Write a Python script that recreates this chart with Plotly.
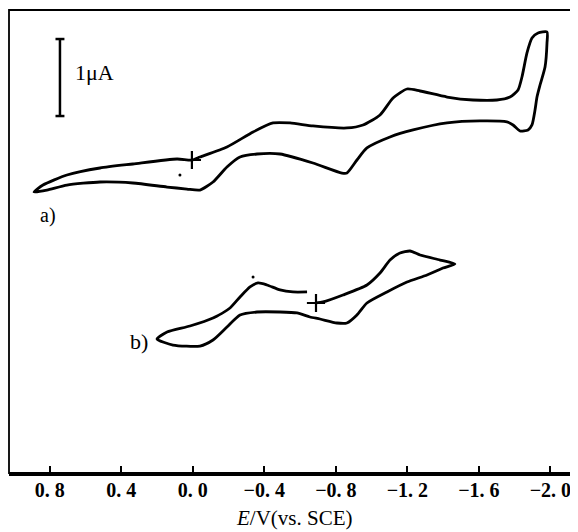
import plotly.graph_objects as go

# Curve a) : potential (V vs SCE) and current (µA, arbitrary offset)
a_E = [0.005, -0.040, -0.191, -0.337, -0.449, -0.544, -0.672, -0.862, -0.952, -1.047,
       -1.120, -1.198, -1.271, -1.422, -1.567, -1.701, -1.774, -1.819, -1.841, -1.869,
       -1.897, -1.931, -1.981, -1.981, -1.970, -1.942, -1.925, -1.914, -1.897, -1.875,
       -1.830, -1.791, -1.757, -1.606, -1.422, -1.232, -1.103, -0.974, -0.918, -0.862,
       -0.834, -0.672, -0.488, -0.359, -0.264, -0.191, -0.113, -0.040, 0.033, 0.144,
       0.335, 0.519, 0.704, 0.816, 0.888, 0.838, 0.704, 0.519, 0.335, 0.088, 0.005]
a_I = [4.065, 4.104, 4.234, 4.429, 4.546, 4.546, 4.507, 4.481, 4.520, 4.649,
       4.870, 4.987, 4.961, 4.883, 4.844, 4.844, 4.883, 4.974, 5.143, 5.455,
       5.649, 5.714, 5.727, 5.585, 5.273, 5.039, 4.883, 4.714, 4.520, 4.455,
       4.442, 4.520, 4.559, 4.572, 4.546, 4.455, 4.364, 4.221, 4.065, 3.896,
       3.896, 4.026, 4.143, 4.143, 4.104, 3.974, 3.779, 3.675, 3.688, 3.714,
       3.766, 3.779, 3.740, 3.675, 3.649, 3.740, 3.870, 3.961, 4.013, 4.078, 4.065]

# Curve b)
b_E = [-0.689, -0.728, -0.840, -0.974, -1.047, -1.103, -1.159, -1.215, -1.271, -1.383,
       -1.466, -1.399, -1.310, -1.198, -1.086, -0.974, -0.918, -0.862, -0.806, -0.711,
       -0.655, -0.583, -0.488, -0.359, -0.264, -0.191, -0.113, -0.040, 0.111, 0.200,
       0.144, 0.016, -0.113, -0.208, -0.264, -0.320, -0.365, -0.415, -0.488, -0.560, -0.639]
b_I = [2.208, 2.221, 2.312, 2.442, 2.597, 2.766, 2.857, 2.883, 2.831, 2.766,
       2.714, 2.662, 2.571, 2.480, 2.351, 2.208, 2.052, 1.948, 1.948, 2.000,
       2.026, 2.078, 2.091, 2.091, 2.052, 1.896, 1.727, 1.649, 1.662, 1.740,
       1.831, 1.909, 2.013, 2.143, 2.286, 2.416, 2.468, 2.442, 2.377, 2.351, 2.351]

# start points (+) and small dots
start_E = [0.005, -0.689]
start_I = [4.065, 2.208]
dot_E = [0.072, -0.337]
dot_I = [3.870, 2.546]

tick_vals = [0.8, 0.4, 0.0, -0.4, -0.8, -1.2, -1.6, -2.0]
tick_text = ["0. 8", "0. 4", "0. 0", "−0. 4", "−0. 8", "−1. 2", "−1. 6", "−2. 0"]

fig = go.Figure()
line_style = dict(color="black", width=2.8, shape="spline", smoothing=0.6)
fig.add_trace(go.Scatter(x=a_E, y=a_I, mode="lines", line=line_style, hoverinfo="skip"))
fig.add_trace(go.Scatter(x=b_E, y=b_I, mode="lines", line=line_style, hoverinfo="skip"))
fig.add_trace(go.Scatter(x=start_E, y=start_I, mode="markers",
                         marker=dict(symbol="cross-thin", size=13, line=dict(color="black", width=2.2)),
                         hoverinfo="skip"))
fig.add_trace(go.Scatter(x=dot_E, y=dot_I, mode="markers",
                         marker=dict(symbol="circle", size=3, color="black"), hoverinfo="skip"))

# 1 µA scale bar
fig.add_shape(type="line", x0=0.743, x1=0.743, y0=4.636, y1=5.636, line=dict(color="black", width=2.5))
fig.add_shape(type="line", x0=0.768, x1=0.718, y0=5.636, y1=5.636, line=dict(color="black", width=2.5))
fig.add_shape(type="line", x0=0.768, x1=0.718, y0=4.636, y1=4.636, line=dict(color="black", width=2.5))
fig.add_annotation(x=0.670, y=5.195, text="1μA", showarrow=False, xanchor="left", yanchor="middle",
                   font=dict(family="Liberation Serif", size=22, color="black"))

fig.add_annotation(x=0.810, y=3.338, text="a)", showarrow=False, yanchor="middle",
                   font=dict(family="Liberation Serif", size=20, color="black"))
fig.add_annotation(x=0.301, y=1.714, text="b)", showarrow=False, yanchor="middle",
                   font=dict(family="Liberation Serif", size=22, color="black"))

# axis title
fig.add_annotation(xref="paper", yref="paper", x=0.505, y=-0.098, yanchor="middle",
                   text="<i>E</i>/V(vs. SCE)", showarrow=False,
                   font=dict(family="Liberation Serif", size=21, color="black"))

# frame
fig.add_shape(type="rect", xref="paper", yref="paper", x0=0, x1=1, y0=0, y1=1,
              line=dict(color="black", width=1.8))

# page body has an 8px margin, so the figure is sized/offset to compensate
fig.update_layout(
    width=570, height=524,
    margin=dict(l=1, r=4, t=2, b=59, autoexpand=False),
    paper_bgcolor="white", plot_bgcolor="white",
    showlegend=False,
    xaxis=dict(range=[1.028, -2.132], tickvals=tick_vals, ticktext=tick_text, automargin=False,
               ticks="inside", ticklen=7, tickwidth=2, tickcolor="black", ticklabelstandoff=-3,
               showline=True, linewidth=3, linecolor="black", showgrid=False, zeroline=False,
               tickfont=dict(family="Liberation Serif", size=20, color="black", weight="bold")),
    yaxis=dict(range=[0, 6.013], visible=False, showgrid=False, zeroline=False, automargin=False),
)

fig.write_html("out.html")
